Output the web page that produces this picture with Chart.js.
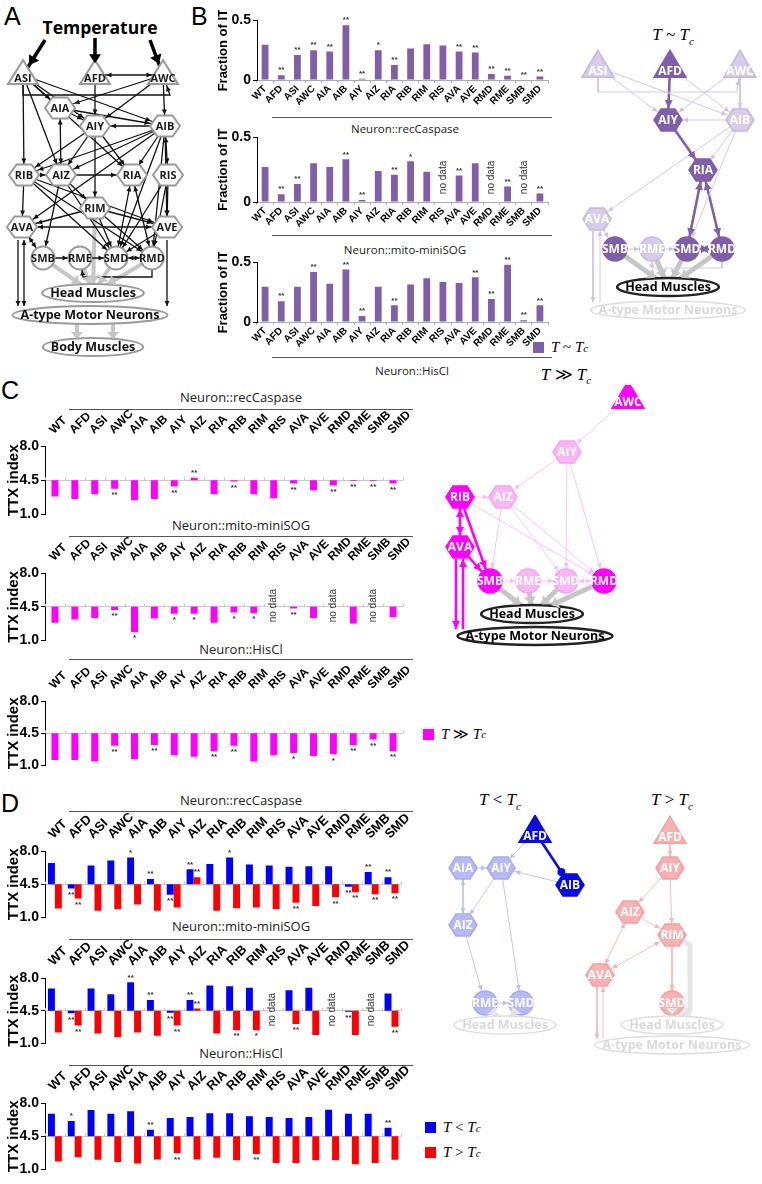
<!DOCTYPE html>
<html>
<head>
<meta charset="utf-8">
<script src="https://cdn.jsdelivr.net/npm/chart.js@4.4.1/dist/chart.umd.min.js"></script>
<style>
  html, body { margin: 0; padding: 0; background: #fff; }
  #fig { position: relative; width: 762px; height: 1184px; overflow: hidden; font-family: "Liberation Sans", Arial, sans-serif; }
  #fig canvas { position: absolute; }
  .panel { position: absolute; font-size: 25px; line-height: 1; color: #000; }
  .cap { position: absolute; transform: translate(-50%, -50%); font-family: "Open Sans", sans-serif; color: #222; white-space: nowrap; }
  .rule { position: absolute; height: 0; border-top: 1.5px solid #555; }
  .math { position: absolute; transform: translate(-50%, -50%); font-family: "Liberation Serif", serif; font-size: 17px; white-space: nowrap; }
  .math sub, .key sub { font-size: 11px; font-style: italic; }
  .key { position: absolute; display: flex; align-items: center; font-family: "Liberation Serif", serif; font-size: 15px; white-space: nowrap; }
  .key .sw { width: 11px; height: 11px; margin-right: 7px; display: inline-block; }
  .temp { position: absolute; transform: translate(-50%, -50%); font-family: "Open Sans", sans-serif; font-weight: bold; font-size: 17.5px; }
</style>
</head>
<body>
<div id="fig">
  <div class="panel" style="left:4px;top:4px">A</div>
  <div class="panel" style="left:191px;top:4px">B</div>
  <div class="panel" style="left:1px;top:378px">C</div>
  <div class="panel" style="left:1px;top:791px">D</div>
  <div class="temp" style="left:100px;top:27px">Temperature</div>

  <div class="rule" style="left:272px;top:117px;width:280px"></div>
  <div class="cap" style="left:405px;top:128px;font-size:11.5px">Neuron::recCaspase</div>
  <div class="rule" style="left:272px;top:235px;width:280px"></div>
  <div class="cap" style="left:405px;top:249px;font-size:11.5px">Neuron::mito-miniSOG</div>
  <div class="rule" style="left:272px;top:357px;width:280px"></div>
  <div class="cap" style="left:412px;top:370px;font-size:11.5px">Neuron::HisCl</div>

  <div class="cap" style="left:241px;top:397px;font-size:13px">Neuron::recCaspase</div>
  <div class="rule" style="left:69px;top:409px;width:344px"></div>
  <div class="cap" style="left:241px;top:525px;font-size:13px">Neuron::mito-miniSOG</div>
  <div class="rule" style="left:69px;top:536px;width:344px"></div>
  <div class="cap" style="left:241px;top:649px;font-size:13px">Neuron::HisCl</div>
  <div class="rule" style="left:69px;top:659px;width:344px"></div>

  <div class="cap" style="left:241px;top:800px;font-size:13px">Neuron::recCaspase</div>
  <div class="rule" style="left:69px;top:811px;width:344px"></div>
  <div class="cap" style="left:241px;top:926px;font-size:13px">Neuron::mito-miniSOG</div>
  <div class="rule" style="left:69px;top:939px;width:344px"></div>
  <div class="cap" style="left:241px;top:1053px;font-size:13px">Neuron::HisCl</div>
  <div class="rule" style="left:69px;top:1065px;width:344px"></div>

  <div class="math" style="left:673px;top:36px"><i>T</i> ~ <i>T</i><sub>c</sub></div>
  <div class="math" style="left:566px;top:375px"><i>T</i> ≫ <i>T</i><sub>c</sub></div>
  <div class="math" style="left:500px;top:801px"><i>T</i> &lt; <i>T</i><sub>c</sub></div>
  <div class="math" style="left:672px;top:801px"><i>T</i> &gt; <i>T</i><sub>c</sub></div>

  <div class="key" style="left:533px;top:339px"><span class="sw" style="background:#7F5FA9"></span><i>T</i>&nbsp;~&nbsp;<i>T</i><sub>c</sub></div>
  <div class="key" style="left:423px;top:725px"><span class="sw" style="background:#FF00FF"></span><i>T</i>&nbsp;≫&nbsp;<i>T</i><sub>c</sub></div>
  <div class="key" style="left:425px;top:1119px"><span class="sw" style="background:#0000FF"></span><i>T</i>&nbsp;&lt;&nbsp;<i>T</i><sub>c</sub></div>
  <div class="key" style="left:425px;top:1144px"><span class="sw" style="background:#FF0000"></span><i>T</i>&nbsp;&gt;&nbsp;<i>T</i><sub>c</sub></div>
</div>
<script>
// categories
const neurons = ['WT','AFD','ASI','AWC','AIA','AIB','AIY','AIZ','RIA','RIB','RIM','RIS','AVA','AVE','RMD','RME','SMB','SMD'];

// B: fraction of IT
const fracRecCaspase = [0.295,0.04,0.21,0.25,0.24,0.46,0.01,0.25,0.125,0.265,0.30,0.29,0.24,0.23,0.05,0.035,0.005,0.03];
const fracMitoMiniSOG = [0.27,0.06,0.14,0.30,0.27,0.33,0.015,0.24,0.21,0.315,0.235,null,0.205,0.30,null,0.12,null,0.065];
const fracHisCl = [0.295,0.175,0.295,0.42,0.32,0.44,0.05,0.295,0.14,0.315,0.367,0.335,0.327,0.375,0.194,0.48,0.015,0.14];
const starsFracRec = ['','**','**','**','**','**','**','*','**','','','','**','**','**','**','**','**'];
const starsFracMito = ['','**','**','','','**','**','','**','*','','','**','','','**','','**'];
const starsFracHis = ['','**','','**','','**','**','','**','','','','','**','**','**','**','**'];

// C: TTX index, T >> Tc
const ttxFarRecCaspase = [2.84,2.59,3.07,3.64,2.46,2.59,3.86,4.75,3.07,4.37,3.07,2.68,4.18,3.48,3.96,4.44,4.42,4.18];
const ttxFarMitoMiniSOG = [2.85,3.18,3.34,4.17,1.86,3.28,3.77,3.77,2.85,3.9,3.84,null,4.33,3.34,null,2.78,null,3.41];
const ttxFarHisCl = [1.61,1.61,1.44,3.14,1.68,3.24,2.12,1.95,2.56,3.14,1.44,2.12,2.36,2.05,2.22,3.21,3.82,2.56];
const starsFarRec = ['','','','**','','','**','**','','**','','','**','','**','**','**','**'];
const starsFarMito = ['','','','**','*','','*','*','','*','*','','**','','','','',''];
const starsFarHis = ['','','','**','','**','','','**','**','','','*','','*','**','**','**'];

// D: TTX index, T < Tc (below) and T > Tc (above)
const ttxBelowRecCaspase = [6.74,4.07,6.47,7.0,7.31,5.07,3.4,6.07,6.64,7.31,6.57,6.47,6.34,6.4,6.4,4.23,5.8,5.24];
const ttxAboveRecCaspase = [1.96,3.0,1.72,1.89,2.39,1.72,2.06,5.24,1.72,1.99,2.06,1.89,2.56,2.23,3.13,3.66,3.46,3.56];
const ttxBelowMitoMiniSOG = [6.89,4.23,6.89,6.27,7.54,5.66,4.3,5.66,7.2,7.13,6.96,null,6.68,6.96,null,4.4,null,6.34];
const ttxAboveMitoMiniSOG = [2.18,2.93,2.08,1.67,2.18,1.84,2.93,4.74,2.08,2.42,2.42,null,3.1,1.91,null,1.91,null,2.79];
const ttxBelowHisCl = [6.86,6.12,7.27,6.86,7.14,5.18,6.43,6.53,6.93,6.93,6.6,6.53,6.43,6.53,7.3,6.86,6.86,5.41];
const ttxAboveHisCl = [1.86,2.3,2.03,1.8,1.63,2.07,2.71,2.07,2.24,1.97,2.64,1.7,1.7,1.97,1.97,1.56,1.7,2.03];
const starsBelowRec = ['','**','','','*','**','**','**','','*','','','','','','**','**','**'];
const starsAboveRec = ['','**','','','','','','**','','','','','**','','**','**','**','**'];
const starsBelowMito = ['','**','','','**','**','**','**','','','','','','','','**','',''];
const starsAboveMito = ['','**','','','','','**','**','','**','*','','**','','','','','**'];
const starsBelowHis = ['','*','','','','**','','','','','','','','','','','','**'];
const starsAboveHis = ['','','','','','','**','','','','**','','','','','','',''];

// network diagrams: [name, x, y, shape, highlighted]
const circuitNodes = [
  ['ASI',23,75,'tri',1],['AFD',95,75,'tri',1],['AWC',163,75,'tri',1],
  ['AIA',60,108,'hex',1],['AIY',95,126,'hex',1],['AIB',165,126,'hex',1],
  ['RIB',24,175,'hex',1],['AIZ',61,175,'hex',1],['RIA',132,175,'hex',1],['RIS',168,175,'hex',1],
  ['RIM',95,208,'hex',1],['AVA',22,227,'hex',1],['AVE',167,227,'hex',1],
  ['SMB',43,258,'circ',1],['RME',80,258,'circ',1],['SMD',116,258,'circ',1],['RMD',152,258,'circ',1],
  ['Head Muscles',93,293,'ell',1],['A-type Motor Neurons',90,315,'ell',1],['Body Muscles',93,347,'ell',1]
];
// [from, to, kind, bold, via]
const circuitEdges = [
  [[45,40],'ASI','a',1],[[95,38],'AFD','a',1],[[150,40],'AWC','a',1],
  ['ASI','AIA','a'],['ASI','AIY','a'],['ASI','AIB','a'],['ASI','AIZ','a'],['ASI','RIA','a'],['ASI','RIB','a'],
  ['AFD','AIY','a'],['AFD','AWC','b'],['ASI','AWC','a',0,[[23,95],[170,95]]],
  ['AWC','AIA','a'],['AWC','AIY','a'],['AWC','AIB','a'],
  ['AIA','AIY','a'],['AIA','AIB','a'],['AIA','AIZ','b'],
  ['AIB','AIY','a'],['AIB','RIB','a'],['AIB','AIZ','a'],['AIB','RIA','a'],['AIB','RIS','b'],['AIB','AVA','a'],['AIB','SMD','a'],['AIB','RMD','a'],['AIB','AVE','a'],
  ['AIY','AIZ','a'],['AIY','RIA','a'],['AIY','RIB','a'],['AIY','RIM','a'],
  ['RIB','AIZ','a'],['RIB','AVA','a'],['RIB','SMD','a'],['RIB','RMD','a'],['RIB','AVE','a'],
  ['AIZ','RIA','a'],['AIZ','SMB','a'],['AIZ','RIM','a'],['AIZ','SMD','a'],
  ['RIA','SMD','b'],['RIA','RMD','b'],
  ['RIS','AVE','a'],['RIS','SMD','a'],['RIS','RMD','a'],
  ['RIM','AVA','a'],['RIM','AVE','a'],['RIM','SMD','a'],['RIM','RMD','a'],
  ['AVA','AVE','b'],['AVA','SMB','b'],['AVE','SMD','a'],
  ['SMB','RME','a'],['RME','SMD','a'],['SMD','RMD','b'],['RMD','RME','a',0,[[152,277],[83,277]]],
  [[18,240],[18,306],'a'],[[24,306],[24,240],'b'],[[167,240],[167,306],'a'],
  ['SMB','Head Muscles','g'],['RME','Head Muscles','g'],['SMD','Head Muscles','g'],['RMD','Head Muscles','g'],['RIM','Head Muscles','g'],
  [[77,323],[77,339],'g'],[[113,323],[113,339],'g']
];

const nearNodes = [
  ['ASI',598,67,'tri',0],['AFD',670,67,'tri',1],['AWC',740,67,'tri',0],
  ['AIY',668,120,'hex',1],['AIB',740,120,'hex',0],['RIA',703,170,'hex',1],['AVA',597,219,'hex',0],
  ['SMB',615,249,'circ',1],['RME',652,249,'circ',0],['SMD',687,249,'circ',1],['RMD',722,249,'circ',1],
  ['Head Muscles',668,287,'ell',1],['A-type Motor Neurons',668,310,'ell',0]
];
const nearEdges = [
  ['ASI','AIY','a'],['ASI','AIB','a'],['AWC','AIY','a'],['AFD','AIB','a'],['AWC','AIB','a'],
  ['ASI','AWC','a',0,[[598,92],[737,92]]],
  ['AIB','AIY','a'],['AIB','RIA','a'],['AIB','AVA','a'],['AIB','SMD','a'],['AVA','SMB','a'],
  [[593,231],[593,302],'a'],[[600,302],[600,231],'a'],
  ['SMB','RME','a'],['RME','SMD','a'],['RMD','RME','a',0,[[722,268],[652,268]]],
  ['AFD','AIY','a',1],['AIY','RIA','a',1],['RIA','SMD','b',1],['RIA','RMD','b',1],['SMD','RMD','b',1],
  ['SMB','Head Muscles','g'],['RME','Head Muscles','g'],['SMD','Head Muscles','g'],['RMD','Head Muscles','g']
];

const farNodes = [
  ['AWC',628,398,'tri',1],['AIY',567,452,'hex',0],['RIB',460,497,'hex',1],['AIZ',503,497,'hex',0],['AVA',460,547,'hex',1],
  ['SMB',490,581,'circ',1],['RME',528,581,'circ',0],['SMD',566,581,'circ',0],['RMD',604,581,'circ',1],
  ['Head Muscles',532,614,'ell',1],['A-type Motor Neurons',535,636,'ell',1]
];
const farEdges = [
  ['AWC','AIY','a'],['AIY','AIZ','a'],['AIY','SMD','a'],['AIY','RMD','a'],['RIB','AIZ','a'],['AIZ','SMB','a'],
  ['AIZ','RMD','a'],['AIZ','SMD','a'],['RIB','RMD','a'],['SMB','RME','a'],['RME','SMD','a'],['SMD','RMD','b'],
  ['RIB','AVA','b',1],['RIB','SMB','a',1],['AVA','SMB','a',1],
  [[456,559],[456,629],'a',1],[[463,629],[463,559],'a',1],
  ['SMB','Head Muscles','g'],['RME','Head Muscles','g'],['SMD','Head Muscles','g'],['RMD','Head Muscles','g']
];

const coldNodes = [
  ['AFD',535,832,'tri',1],['AIA',463,868,'hex',0],['AIY',501,868,'hex',0],['AIB',570,885,'hex',1],
  ['AIZ',463,925,'hex',0],['RME',485,1003,'circ',0],['SMD',521,1003,'circ',0],['Head Muscles',505,1025,'ell',0]
];
const coldEdges = [
  ['AFD','AIY','a'],['AIA','AIY','a'],['AIB','AIY','a'],['AIA','AIZ','b'],['AIY','AIZ','a'],['AIY','SMD','a'],
  ['AIZ','RME','a'],['RME','SMD','a'],['AFD','AIB','d',1],
  ['RME','Head Muscles','g'],['SMD','Head Muscles','g']
];

const warmNodes = [
  ['AFD',670,833,'tri',0],['AIY',670,868,'hex',0],['AIZ',630,912,'hex',0],['RIM',672,935,'hex',0],
  ['AVA',600,975,'hex',0],['SMD',672,1003,'circ',0],['Head Muscles',672,1025,'ell',0],['A-type Motor Neurons',672,1045,'ell',0]
];
const warmEdges = [
  ['AFD','AIY','a'],['AIY','AIZ','a'],['AIY','RIM','a'],['AIZ','RIM','a'],['AIZ','AVA','b'],['RIM','AVA','b'],['RIM','SMD','a'],
  [[597,987],[597,1039],'a'],[[603,1039],[603,987],'a'],
  ['SMD','Head Muscles','g'],['RIM','Head Muscles','g',0,[[690,945],[690,1010]]]
];

const FONT = '"Liberation Sans", Arial, sans-serif';
const purple = '#7F5FA9', magenta = '#FF00FF', blue = '#0000FF', red = '#FF0000';

function addCanvas(left, top, w, h) {
  const c = document.createElement('canvas');
  c.width = w; c.height = h;
  c.style.left = left + 'px'; c.style.top = top + 'px';
  document.getElementById('fig').appendChild(c);
  return c;
}

// stars, "no data" and baseline ticks
const marks = {
  id: 'marks',
  afterDatasetsDraw(chart, args, o) {
    const ctx = chart.ctx, xs = chart.scales.x, ys = chart.scales.y;
    ctx.save();
    if (o.base != null) {
      const by = ys.getPixelForValue(o.base), step = xs.getPixelForValue(1) - xs.getPixelForValue(0);
      ctx.strokeStyle = '#c8c8c8'; ctx.lineWidth = 1;
      for (let i = 0; i <= neurons.length; i++) {
        const x = Math.round(xs.getPixelForValue(0) - step / 2 + i * step) + 0.5;
        ctx.beginPath(); ctx.moveTo(x, by); ctx.lineTo(x, by - 3); ctx.stroke();
      }
    }
    ctx.fillStyle = '#333'; ctx.textAlign = 'center';
    ctx.font = 'bold 8px ' + FONT;
    (o.stars || []).forEach((arr, di) => {
      const meta = chart.getDatasetMeta(di);
      arr.forEach((s, i) => {
        const el = meta.data[i], raw = chart.data.datasets[di].data[i];
        if (!s || !el || raw == null) return;
        const v = Array.isArray(raw) ? raw[1] : raw, from = Array.isArray(raw) ? raw[0] : 0;
        const y = ys.getPixelForValue(v), up = v >= from;
        ctx.textBaseline = up ? 'bottom' : 'top';
        ctx.fillText(s, el.x, up ? y - 1 : y + 2);
      });
    });
    ctx.font = '10px ' + FONT; ctx.fillStyle = '#333';
    chart.data.labels.forEach((lab, i) => {
      if (chart.data.datasets.every(d => d.data[i] == null)) {
        ctx.save();
        ctx.translate(xs.getPixelForValue(i), ys.getPixelForValue(o.noData));
        ctx.rotate(-Math.PI / 2);
        ctx.textAlign = 'center'; ctx.textBaseline = 'middle';
        ctx.fillText('no data', 0, 0);
        ctx.restore();
      }
    });
    ctx.restore();
  }
};

function fracChart(top, plotH, values, stars) {
  new Chart(addCanvas(216, top, 337, plotH + 32), {
    type: 'bar',
    data: { labels: neurons, datasets: [{ data: values, backgroundColor: purple, barPercentage: 0.42, categoryPercentage: 1 }] },
    options: {
      responsive: false, animation: false,
      layout: { padding: { top: 7, right: 5, left: 0, bottom: 0 } },
      plugins: { legend: { display: false }, tooltip: { enabled: false }, marks: { stars: [stars], noData: 0.19 } },
      scales: {
        x: {
          grid: { offset: true, drawOnChartArea: false, tickLength: 3, color: '#aaa' }, border: { color: '#aaa' },
          ticks: { minRotation: 45, maxRotation: 45, autoSkip: false, padding: 0, color: '#000', font: { family: FONT, weight: 'bold', size: 10 } },
          afterFit: s => { s.height = 25; }
        },
        y: {
          min: 0, max: 0.5,
          afterBuildTicks: s => { s.ticks = [{ value: 0 }, { value: 0.5 }]; },
          ticks: { padding: 2, color: '#000', font: { family: FONT, weight: 'bold', size: 14 }, callback: v => v === 0 ? '0' : '0.5' },
          grid: { drawOnChartArea: false, tickLength: 4, color: '#000' }, border: { color: '#000' },
          title: { display: true, text: 'Fraction of IT', color: '#000', font: { family: FONT, weight: 'bold', size: 13 }, padding: 0 },
          afterFit: s => { s.width = 41; }
        }
      }
    },
    plugins: [marks]
  });
}

// plotTop: pixel row of 8.0; the x labels sit above it
function ttxChart(plotTop, plotH, labelSize, datasets, stars) {
  const xh = 46;
  new Chart(addCanvas(0, plotTop - xh, 413, xh + plotH + 7), {
    type: 'bar',
    data: { labels: neurons, datasets },
    options: {
      responsive: false, animation: false,
      layout: { padding: { top: 0, right: 3, left: 0, bottom: 7 } },
      plugins: { legend: { display: false }, tooltip: { enabled: false }, marks: { stars, noData: 4.62, base: 4.5 } },
      scales: {
        x: {
          position: 'top', grid: { display: false }, border: { display: false },
          ticks: { minRotation: 45, maxRotation: 45, autoSkip: false, padding: 1, labelOffset: 7, color: '#000', font: { family: FONT, weight: 'bold', size: labelSize } },
          afterFit: s => { s.height = xh; }
        },
        y: {
          min: 1, max: 8,
          afterBuildTicks: s => { s.ticks = [1, 4.5, 8].map(v => ({ value: v })); },
          ticks: { padding: 2, color: '#000', font: { family: FONT, weight: 'bold', size: 14 }, callback: v => v.toFixed(1) },
          grid: { color: c => (c.tick && c.tick.value === 4.5) ? '#c8c8c8' : 'rgba(0,0,0,0)', tickColor: '#000', tickLength: 4 },
          border: { color: '#000' },
          title: { display: true, text: 'TTX index', color: '#000', font: { family: FONT, weight: 'bold', size: 15 }, padding: { top: 5, bottom: 0 } },
          afterFit: s => { s.width = 45; }
        }
      }
    },
    plugins: [marks]
  });
}

const floating = vals => vals.map(v => v == null ? null : [4.5, v]);
const farSet = vals => [{ data: floating(vals), backgroundColor: magenta, barPercentage: 0.35, categoryPercentage: 1 }];
const pairSet = (lo, hi) => [
  { data: floating(lo), backgroundColor: blue, barPercentage: 1, categoryPercentage: 0.7 },
  { data: floating(hi), backgroundColor: red, barPercentage: 1, categoryPercentage: 0.7 }
];

fracChart(10, 63, fracRecCaspase, starsFracRec);
fracChart(127, 68, fracMitoMiniSOG, starsFracMito);
fracChart(252, 63, fracHisCl, starsFracHis);

ttxChart(446, 72, 12, farSet(ttxFarRecCaspase), [starsFarRec]);
ttxChart(573, 71, 12, farSet(ttxFarMitoMiniSOG), [starsFarMito]);
ttxChart(701, 68, 12, farSet(ttxFarHisCl), [starsFarHis]);

ttxChart(851, 70, 13, pairSet(ttxBelowRecCaspase, ttxAboveRecCaspase), [starsBelowRec, starsAboveRec]);
ttxChart(978, 69, 13, pairSet(ttxBelowMitoMiniSOG, ttxAboveMitoMiniSOG), [starsBelowMito, starsAboveMito]);
ttxChart(1103, 70, 13, pairSet(ttxBelowHisCl, ttxAboveHisCl), [starsBelowHis, starsAboveHis]);

// network diagrams on scatter charts
function netPlugin(nodes, edges, st) {
  const byName = {};
  nodes.forEach(n => { byName[n[0]] = n; });
  return {
    id: 'net',
    afterDatasetsDraw(chart) {
      const ctx = chart.ctx, xs = chart.scales.x, ys = chart.scales.y;
      const px = p => [xs.getPixelForValue(p[0]), ys.getPixelForValue(p[1])];
      const semi = {};
      ctx.save();
      nodes.forEach(n => {
        const [name, x, y, shape, on] = n;
        const [cx, cy] = px([x, y]);
        ctx.lineWidth = st.nodeLW;
        ctx.fillStyle = on ? st.dark : st.light;
        ctx.strokeStyle = on ? st.darkEdge : st.lightEdge;
        ctx.beginPath();
        if (shape === 'hex') {
          const a = st.hex[0], b = st.hex[1];
          ctx.moveTo(cx - a, cy); ctx.lineTo(cx - a / 2, cy - b); ctx.lineTo(cx + a / 2, cy - b);
          ctx.lineTo(cx + a, cy); ctx.lineTo(cx + a / 2, cy + b); ctx.lineTo(cx - a / 2, cy + b); ctx.closePath();
          semi[name] = [a, b];
        } else if (shape === 'tri') {
          const a = st.tri[0] / 2, b = st.tri[1];
          ctx.moveTo(cx, cy - b * 0.62); ctx.lineTo(cx + a, cy + b * 0.38); ctx.lineTo(cx - a, cy + b * 0.38); ctx.closePath();
          semi[name] = [a * 0.7, b * 0.45];
        } else if (shape === 'circ') {
          ctx.arc(cx, cy, st.r, 0, Math.PI * 2);
          semi[name] = [st.r, st.r];
        } else {
          const es = on ? st.ellOn : st.ellOff;
          ctx.font = st.ellFont;
          const rx = ctx.measureText(name).width / 2 + 8;
          ctx.ellipse(cx, cy, rx, st.ellRy, 0, 0, Math.PI * 2);
          ctx.fillStyle = '#fff'; ctx.strokeStyle = es.stroke; ctx.lineWidth = es.lw;
          semi[name] = [rx, st.ellRy];
        }
        ctx.fill(); ctx.stroke();
        ctx.textAlign = 'center'; ctx.textBaseline = 'middle';
        if (shape === 'ell') { ctx.fillStyle = (on ? st.ellOn : st.ellOff).text; ctx.font = st.ellFont; }
        else { ctx.fillStyle = on ? st.darkText : st.lightText; ctx.font = st.font; }
        ctx.fillText(name, cx, cy + (shape === 'tri' ? st.tri[1] * 0.16 : 0) + 0.5);
      });
      const coord = p => typeof p === 'string' ? [byName[p][1], byName[p][2]] : p;
      const head = (from, to, name, kind, bold) => {
        const [x1, y1] = px(coord(from)), [x2, y2] = px(coord(to));
        const L = Math.hypot(x2 - x1, y2 - y1), ux = (x2 - x1) / L, uy = (y2 - y1) / L;
        let r = 0;
        if (name && semi[name]) { const [a, b] = semi[name]; r = a * b / Math.hypot(b * ux, a * uy) + 1; }
        const tx = x2 - ux * r, ty = y2 - uy * r;
        ctx.fillStyle = kind === 'g' ? st.grayC : (bold ? st.boldC : st.thinC);
        if (kind === 'd') { ctx.beginPath(); ctx.arc(tx - ux * 3, ty - uy * 3, 4, 0, Math.PI * 2); ctx.fill(); return; }
        const [len, half] = kind === 'g' ? st.grayHead : (bold ? st.boldHead : st.thinHead);
        const bx = tx - ux * len, by = ty - uy * len;
        ctx.beginPath(); ctx.moveTo(tx, ty);
        ctx.lineTo(bx - uy * half, by + ux * half); ctx.lineTo(bx + uy * half, by - ux * half);
        ctx.closePath(); ctx.fill();
      };
      edges.forEach(e => {
        const pts = [e[0], ...(e[4] || []), e[1]];
        const nm = p => typeof p === 'string' ? p : null;
        if (e[2] === '-') return;
        head(pts[pts.length - 2], pts[pts.length - 1], nm(e[1]), e[2], e[3]);
        if (e[2] === 'b') head(pts[1], pts[0], nm(e[0]), 'a', e[3]);
      });
      ctx.restore();
    }
  };
}

function network(box, nodes, edges, st) {
  const [left, top, w, h] = box;
  const byName = {};
  nodes.forEach(n => { byName[n[0]] = n; });
  const pt = p => typeof p === 'string' ? { x: byName[p][1], y: byName[p][2] } : { x: p[0], y: p[1] };
  const datasets = edges.map(e => ({
    data: [pt(e[0]), ...(e[4] || []).map(pt), pt(e[1])],
    showLine: true, pointRadius: 0, tension: 0,
    borderWidth: e[2] === 'g' ? st.grayW : (e[3] ? st.boldW : st.thinW),
    borderColor: e[2] === 'g' ? st.grayC : (e[3] ? st.boldC : st.thinC)
  }));
  new Chart(addCanvas(left, top, w, h), {
    type: 'scatter',
    data: { datasets },
    options: {
      responsive: false, animation: false, layout: { padding: 0 },
      plugins: { legend: { display: false }, tooltip: { enabled: false } },
      scales: { x: { display: false, min: left, max: left + w }, y: { display: false, min: top, max: top + h, reverse: true } }
    },
    plugins: [netPlugin(nodes, edges, st)]
  });
}

const baseStyle = {
  hex: [14, 11], tri: [32, 27], r: 12, nodeLW: 1.5, ellRy: 9,
  font: 'bold 12px "Open Sans", sans-serif', ellFont: 'bold 12.5px "Open Sans", sans-serif',
  darkText: '#fff', lightText: '#fff',
  thinW: 0.9, boldW: 2.6, grayW: 5, grayC: '#c6c6c6',
  thinHead: [5, 2.5], boldHead: [8, 4], grayHead: [7, 6],
  ellOn: { stroke: '#222', text: '#000', lw: 2.5 }, ellOff: { stroke: '#ddd', text: '#d9d9d9', lw: 1.5 }
};

network([0, 0, 200, 360], circuitNodes, circuitEdges, Object.assign({}, baseStyle, {
  hex: [15, 10.5], tri: [30, 24], r: 11.5, nodeLW: 2,
  dark: '#fff', darkEdge: '#9a9a9a', darkText: '#1a1a1a',
  font: 'bold 11px "Open Sans", sans-serif',
  thinC: '#111', thinW: 1.3, boldC: '#000', boldW: 3.5, boldHead: [9, 6], grayW: 4,
  ellOn: { stroke: '#9a9a9a', text: '#111', lw: 2 }
}));
network([560, 40, 202, 285], nearNodes, nearEdges, Object.assign({}, baseStyle, {
  dark: purple, darkEdge: purple, light: '#D8CDE8', lightEdge: '#C6B7DC',
  thinC: '#CDC1E2', boldC: purple
}));
network([425, 385, 235, 265], farNodes, farEdges, Object.assign({}, baseStyle, {
  dark: magenta, darkEdge: magenta, light: '#F9B6F6', lightEdge: '#F6A2F2',
  thinC: '#F8BDF5', boldC: magenta
}));
network([440, 815, 160, 225], coldNodes, coldEdges, Object.assign({}, baseStyle, {
  dark: '#0A0AE6', darkEdge: '#0A0AE6', light: '#B8B8F3', lightEdge: '#A9A9EF',
  thinC: '#BDBDF3', boldC: '#0A0AE6', grayC: '#e4e4e4'
}));
network([585, 815, 177, 245], warmNodes, warmEdges, Object.assign({}, baseStyle, {
  dark: red, darkEdge: red, light: '#F7B1B1', lightEdge: '#F4A0A0',
  thinC: '#F6B4B4', boldC: red, grayC: '#e4e4e4'
}));
</script>
</body>
</html>
